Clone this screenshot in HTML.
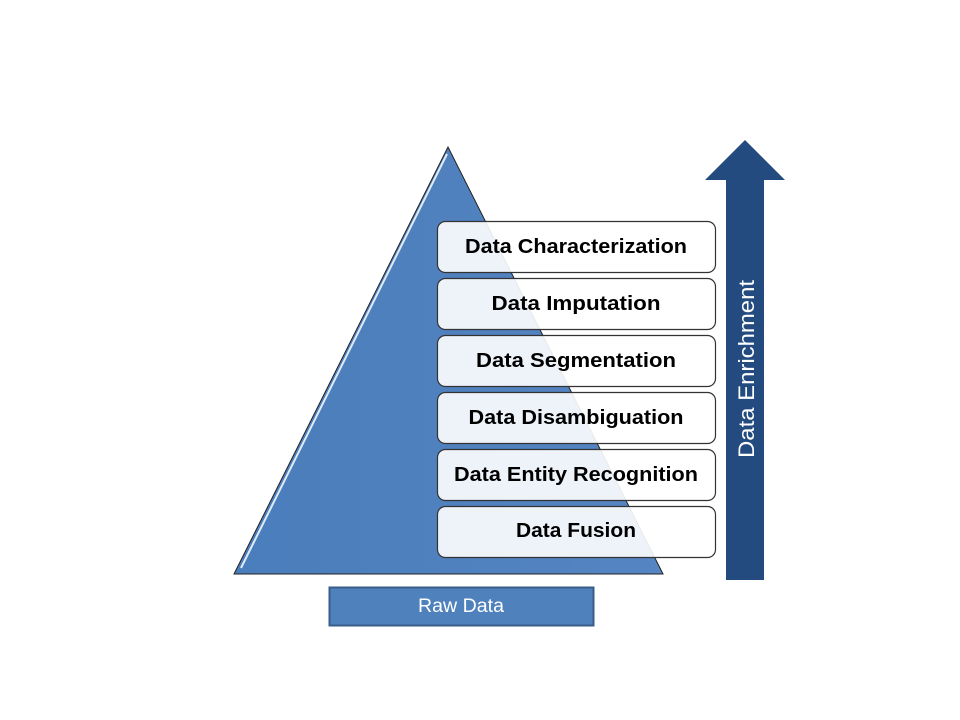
<!DOCTYPE html>
<html><head><meta charset="utf-8"><style>
html,body{margin:0;padding:0;background:#fff;width:960px;height:720px;overflow:hidden}
svg text{font-family:"Liberation Sans",sans-serif}
</style></head><body>
<svg width="960" height="720" viewBox="0 0 960 720" xmlns="http://www.w3.org/2000/svg">
<defs>
<linearGradient id="tg" x1="0" y1="0" x2="1" y2="0">
<stop offset="0" stop-color="#4a7dbb"/><stop offset="1" stop-color="#5585c2"/>
</linearGradient>
</defs>
<polygon points="448,147 234,574 663,574" fill="url(#tg)" stroke="#222" stroke-width="1"/>
<line x1="447" y1="154" x2="241" y2="568" stroke="#dfeaf6" stroke-width="2"/>
<polygon points="745,140 785,180 764,180 764,580 726,580 726,180 705,180" fill="#234b7f"/>
<text transform="translate(754,369) rotate(-90)" text-anchor="middle" font-size="22" fill="#fff" textLength="178" lengthAdjust="spacingAndGlyphs">Data Enrichment</text>
<g stroke="#333" stroke-width="1.2" fill="#fff" fill-opacity="0.9">
<rect x="437.5" y="221.5" width="278" height="51" rx="8"/>
<rect x="437.5" y="278.5" width="278" height="51" rx="8"/>
<rect x="437.5" y="335.5" width="278" height="51" rx="8"/>
<rect x="437.5" y="392.5" width="278" height="51" rx="8"/>
<rect x="437.5" y="449.5" width="278" height="51" rx="8"/>
<rect x="437.5" y="506.5" width="278" height="51" rx="8"/>
</g>
<g font-size="20" font-weight="bold" fill="#000" text-anchor="middle">
<text x="576" y="253" textLength="222" lengthAdjust="spacingAndGlyphs">Data Characterization</text>
<text x="576" y="310" textLength="169" lengthAdjust="spacingAndGlyphs">Data Imputation</text>
<text x="576" y="367" textLength="200" lengthAdjust="spacingAndGlyphs">Data Segmentation</text>
<text x="576" y="424" textLength="215" lengthAdjust="spacingAndGlyphs">Data Disambiguation</text>
<text x="576" y="481" textLength="244" lengthAdjust="spacingAndGlyphs">Data Entity Recognition</text>
<text x="576" y="537" textLength="120" lengthAdjust="spacingAndGlyphs">Data Fusion</text>
</g>
<rect x="329.5" y="587.5" width="264" height="38" fill="#4f81bd" stroke="#385d8a" stroke-width="2"/>
<text x="461" y="612" text-anchor="middle" font-size="19" fill="#fff" textLength="86" lengthAdjust="spacingAndGlyphs">Raw Data</text>
</svg>
</body></html>
